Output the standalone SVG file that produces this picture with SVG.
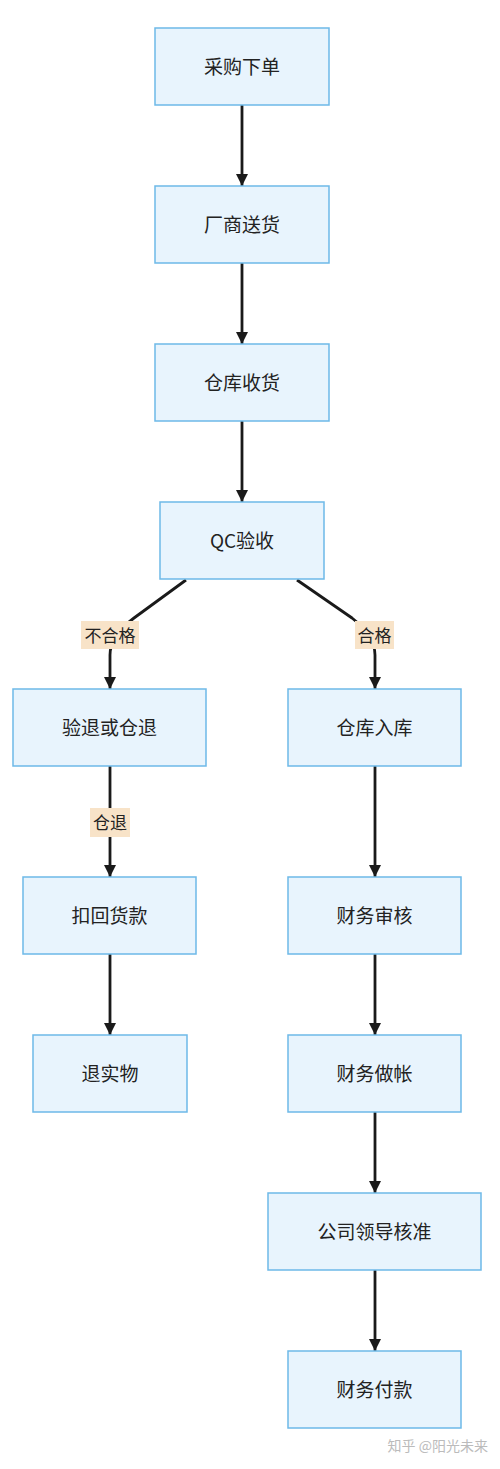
<svg xmlns="http://www.w3.org/2000/svg" width="500" height="1469" viewBox="0 0 500 1469">
<defs>
<style>
.n rect{fill:#E8F4FD;stroke:#6DB9E8;stroke-width:1.5}
.n text{font-family:"Noto Sans CJK SC","Noto Sans",sans-serif;font-size:19px;fill:#222;text-anchor:middle;dominant-baseline:central}
.e path{fill:none;stroke:#1a1a1a;stroke-width:2.8}
.lb rect{fill:#F8E3C8}
.lb text{font-family:"Noto Sans CJK SC","Noto Sans",sans-serif;font-size:17px;fill:#222;text-anchor:middle;dominant-baseline:central}
</style>
<marker id="ah" viewBox="0 0 12 12" refX="12" refY="6" markerWidth="12" markerHeight="12" markerUnits="userSpaceOnUse" orient="auto">
<path d="M0,0 L12,6 L0,12 z" fill="#1a1a1a"/>
</marker>
</defs>
<rect width="500" height="1469" fill="#fff"/>
<g class="e" id="edges">
<path d="M242,105 L242,186" marker-end="url(#ah)"/>
<path d="M242,263 L242,344" marker-end="url(#ah)"/>
<path d="M242,421 L242,502" marker-end="url(#ah)"/>
<path d="M186,580 L134,618 Q110,636 110,655 L110,689" marker-end="url(#ah)"/>
<path d="M297,580 L352,618 Q375,636 375,655 L375,689" marker-end="url(#ah)"/>
<path d="M110,766 L110,877" marker-end="url(#ah)"/>
<path d="M110,954 L110,1035" marker-end="url(#ah)"/>
<path d="M375,766 L375,877" marker-end="url(#ah)"/>
<path d="M375,954 L375,1035" marker-end="url(#ah)"/>
<path d="M375,1112 L375,1193" marker-end="url(#ah)"/>
<path d="M375,1270 L375,1351" marker-end="url(#ah)"/>
</g>
<g class="lb" id="edge-labels">
<g id="l1"><rect x="81" y="621" width="58" height="28"/><text x="110" y="634">不合格</text></g>
<g id="l2"><rect x="355" y="621" width="39" height="28"/><text x="374.5" y="634">合格</text></g>
<g id="l3"><rect x="90" y="808" width="40" height="29"/><text x="110" y="821.5">仓退</text></g>
</g>
<g class="n" id="n1"><rect x="155" y="28" width="174" height="77"/><text x="242" y="65.5">采购下单</text></g>
<g class="n" id="n2"><rect x="155" y="186" width="174" height="77"/><text x="242" y="223.5">厂商送货</text></g>
<g class="n" id="n3"><rect x="155" y="344" width="174" height="77"/><text x="242" y="381.5">仓库收货</text></g>
<g class="n" id="n4"><rect x="160" y="502" width="164" height="77"/><text x="242" y="539.5">QC验收</text></g>
<g class="n" id="n5"><rect x="13" y="689" width="193" height="77"/><text x="109.5" y="726.5">验退或仓退</text></g>
<g class="n" id="n6"><rect x="288" y="689" width="173" height="77"/><text x="374.5" y="726.5">仓库入库</text></g>
<g class="n" id="n7"><rect x="23" y="877" width="173" height="77"/><text x="109.5" y="914.5">扣回货款</text></g>
<g class="n" id="n8"><rect x="33" y="1035" width="154" height="77"/><text x="110" y="1072.5">退实物</text></g>
<g class="n" id="n9"><rect x="288" y="877" width="173" height="77"/><text x="374.5" y="914.5">财务审核</text></g>
<g class="n" id="n10"><rect x="288" y="1035" width="173" height="77"/><text x="374.5" y="1072.5">财务做帐</text></g>
<g class="n" id="n11"><rect x="268" y="1193" width="213" height="77"/><text x="374.5" y="1230.5">公司领导核准</text></g>
<g class="n" id="n12"><rect x="288" y="1351" width="173" height="77"/><text x="374.5" y="1388.5">财务付款</text></g>
<text x="488" y="1451" text-anchor="end" font-family="Noto Sans CJK SC,sans-serif" font-size="14" fill="#bbb">知乎 @阳光未来</text>
</svg>
